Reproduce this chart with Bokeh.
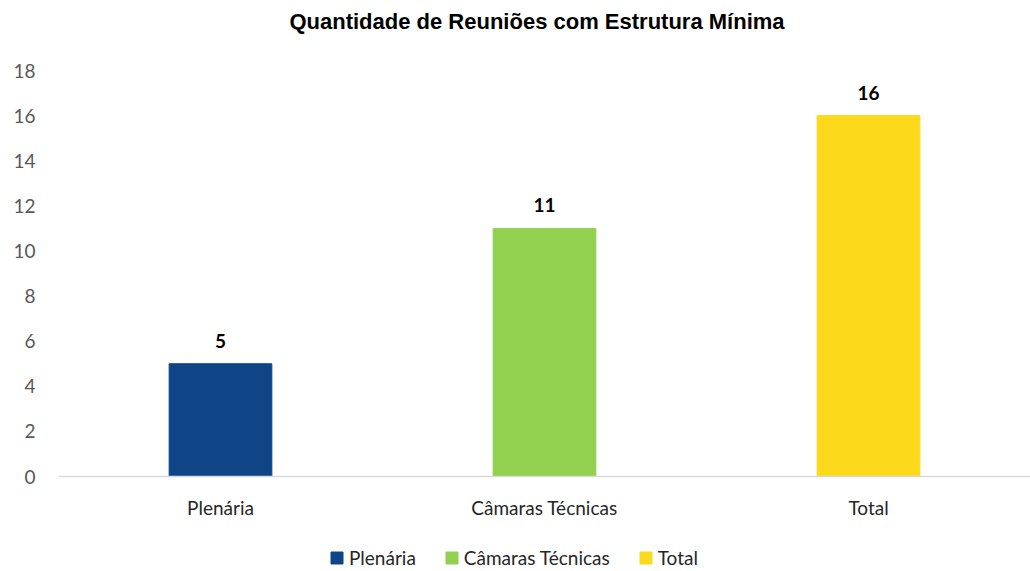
from bokeh.plotting import figure
from bokeh.models import (ColumnDataSource, FactorRange, Range1d, FixedTicker, LabelSet, Legend,
                          LegendItem, Div, Span)
from bokeh.layouts import column
from bokeh.core.properties import value
from bokeh.embed import file_html
from bokeh.resources import INLINE

categories = ["Plenária", "Câmaras Técnicas", "Total"]
values = [5, 11, 16]
colors = ["#0F4586", "#92D050", "#FCD91A"]
title_text = "Quantidade de Reuniões com Estrutura Mínima"
y_ticks = [0, 2, 4, 6, 8, 10, 12, 14, 16, 18]

src = ColumnDataSource(dict(cat=categories, val=values, color=colors,
                            lbl=[str(v) for v in values]))

title_div = Div(text=title_text, width=1030, height=34,
                styles={"font-family": "Liberation Sans, Arial, sans-serif", "font-weight": "bold",
                        "font-size": "22px", "color": "#000000", "text-align": "center",
                        "line-height": "34px", "padding-left": "34px", "box-sizing": "border-box",
                        "width": "1030px"})

# frame extends below zero to hold category labels and legend; 0..18 spans 406 px
p = figure(frame_width=972, frame_height=499, x_range=FactorRange(*categories, range_padding=0),
           y_range=Range1d(-18 * 93 / 406, 18), output_backend="svg", toolbar_location=None,
           x_axis_location=None,
           min_border_left=58, min_border_right=0, min_border_top=26, min_border_bottom=0)
p.outline_line_color = None
p.xgrid.grid_line_color = None
p.ygrid.grid_line_color = None

r = p.vbar(x="cat", top="val", width=0.317, color="color", source=src)

p.add_layout(Span(location=0, dimension="width", line_color="#D9D9D9", line_width=1.5))

labels = LabelSet(x="cat", y="val", text="lbl", source=src, text_align="center",
                  text_baseline="bottom", y_offset=16, text_font=value("Lato"),
                  text_font_size="19px", text_font_style="bold", text_color="#000000")
p.add_layout(labels)

cat_labels = LabelSet(x="cat", y=value(0), text="cat", source=src, text_align="center",
                      text_baseline="middle", y_offset=-31, text_font=value("Lato"),
                      text_font_size="19px", text_color="#262626")
p.add_layout(cat_labels)

p.yaxis.ticker = FixedTicker(ticks=y_ticks)
p.yaxis.axis_line_color = None
p.yaxis.major_tick_line_color = None
p.yaxis.minor_tick_line_color = None
p.yaxis.major_label_text_font = "Lato"
p.yaxis.major_label_text_font_size = "19px"
p.yaxis.major_label_text_color = "#595959"
p.yaxis.major_label_standoff = 17

items = [LegendItem(label=c, renderers=[r], index=i) for i, c in enumerate(categories)]
legend = Legend(items=items, orientation="horizontal", location=(271, 0),
                glyph_width=15, glyph_height=15, label_standoff=5, spacing=28,
                label_text_font="Lato", label_text_font_size="19px",
                label_text_color="#262626", border_line_color=None,
                padding=0, margin=0, background_fill_alpha=0)
p.add_layout(legend, "center")

open("out.html", "w").write(file_html(column(title_div, p, spacing=0), INLINE))
